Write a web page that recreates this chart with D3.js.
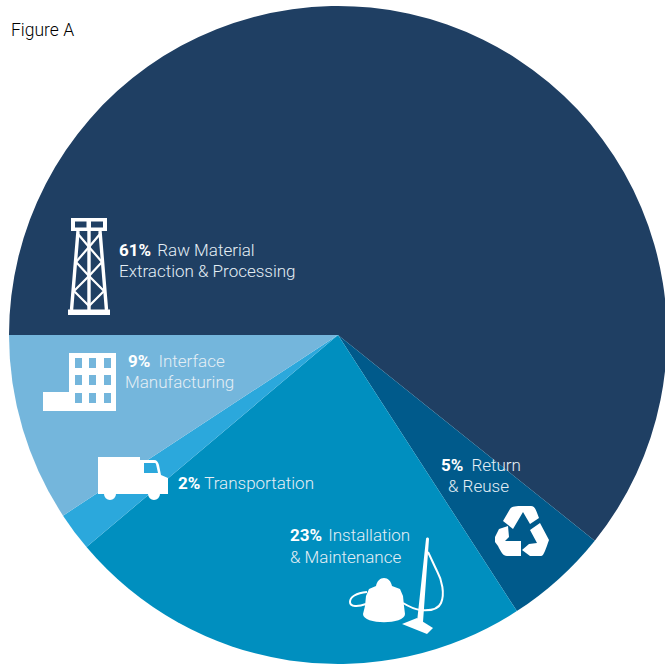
<!DOCTYPE html>
<html>
<head>
<meta charset="utf-8">
<script src="https://cdn.jsdelivr.net/npm/d3@7.9.0/dist/d3.min.js"></script>
<style>
  html, body { margin: 0; padding: 0; background: #fff; }
  svg { display: block; }
  text { font-family: "Roboto", "Open Sans", sans-serif; font-weight: 300; font-size: 17px; }
  .pct { font-weight: 700; fill: #fff; }
</style>
</head>
<body>
<div id="chart"></div>
<script>
// Data, in drawing order from 9 o'clock going clockwise
const categories = ['Raw Material Extraction & Processing', 'Return & Reuse', 'Installation & Maintenance', 'Transportation', 'Interface Manufacturing'];
const shares = [60.75, 5.1, 23, 1.9, 9.25];
const percentLabels = ['61%', '5%', '23%', '2%', '9%'];
const labelLines = [
  ['Raw Material', 'Extraction & Processing'],
  ['Return', '& Reuse'],
  ['Installation', '& Maintenance'],
  ['Transportation'],
  ['Interface', 'Manufacturing']
];
const sliceColors = ['#1f3f63', '#005a8b', '#008fbf', '#2ba8dc', '#74b6dc'];

const width = 665;
const height = 665;
const cx = 338;
const cy = 335;
const radius = 329;

const svg = d3.select('#chart')
  .append('svg')
  .attr('width', width)
  .attr('height', height);

svg.append('text')
  .attr('x', 11)
  .attr('y', 36)
  .attr('fill', '#000')
  .style('font-size', '17.5px')
  .text('Figure A');

// Pie
const pie = d3.pie()
  .sort(null)
  .startAngle(-Math.PI / 2)
  .endAngle(1.5 * Math.PI);

const arc = d3.arc().innerRadius(0).outerRadius(radius);

svg.append('g')
  .attr('transform', `translate(${cx},${cy})`)
  .selectAll('path')
  .data(pie(shares))
  .enter()
  .append('path')
  .attr('d', arc)
  .attr('fill', (d, i) => sliceColors[i]);

// Labels: first line starts with the bold percentage
const labelPos = [
  { x: 119, y: 256, x2: 119, gap: 2, lead: 21 },
  { x: 441, y: 471, x2: 448, gap: 4, lead: 21 },
  { x: 290, y: 541, x2: 290, gap: 2, lead: 22 },
  { x: 178, y: 489, x2: 178, gap: 0, lead: 21 },
  { x: 128, y: 367, x2: 125, gap: 4, lead: 21 }
];

labelLines.forEach((lines, i) => {
  const t = svg.append('text').attr('fill', '#e4eef5');
  const first = t.append('tspan').attr('x', labelPos[i].x).attr('y', labelPos[i].y);
  first.append('tspan').attr('class', 'pct').text(percentLabels[i]);
  first.append('tspan').attr('dx', labelPos[i].gap).text(' ' + lines[0]);
  if (lines[1]) {
    t.append('tspan').attr('x', labelPos[i].x2).attr('y', labelPos[i].y + labelPos[i].lead).text(lines[1]);
  }
});

// Icons
const icons = svg.append('g').attr('fill', '#fff');

// oil derrick
const derrick = icons.append('g');
derrick.append('path')
  .attr('fill-rule', 'evenodd')
  .attr('d', 'M71,218H107V231H71Z M75,221.5V227.5H86.5V221.5Z M91,221.5V227.5H103V221.5Z');
derrick.append('path').attr('d', 'M68,309.5H110V315H68Z');
derrick.append('path')
  .attr('fill', 'none')
  .attr('stroke', '#fff')
  .attr('stroke-width', 3.4)
  .attr('d', 'M78,231L71.5,310 M100,231L106.5,310 M89,231V310');
derrick.append('path')
  .attr('fill', 'none')
  .attr('stroke', '#fff')
  .attr('stroke-width', 2.2)
  .attr('d', 'M78,234L89,247L76,262L89,276L74,291L89,306 M100,234L89,247L102,262L89,276L104,291L89,306');

// factory
icons.append('path')
  .attr('fill-rule', 'evenodd')
  .attr('d', 'M69,353H116V411H43V392H69Z'
    + d3.cross([75, 89, 104], [358, 375, 393], (x, y) => `M${x},${y}h7v10h-7Z`).join(''));

// truck
icons.append('path')
  .attr('fill-rule', 'evenodd')
  .attr('d', 'M98,457H140V460H154C157,460 158,462 159,465L161,475L168,478V494H160A6,6 0 0 1 148,494H116A6,6 0 0 1 104,494H98Z M144,463V473H158L156,464C156,463 155,463 154,463Z');

// vacuum cleaner
const vac = icons.append('g');
vac.append('path').attr('d', 'M426,539C426,537 429,537 429,539L423,622H417Z');
vac.append('path').attr('d', 'M402,624L417,618L433,628L427,634Z');
vac.append('path')
  .attr('d', 'M366,596L369,589L376,586C377,581 380,578 384,578C388,578 391,581 392,586L400,589L403,596L404,606L405,614C405,625 363,625 363,614L365,606Z');
vac.append('path')
  .attr('fill', 'none')
  .attr('stroke', '#fff')
  .attr('stroke-width', 2)
  .attr('d', 'M367,592C356,593 350,597 350,602C350,607 358,607 366,604 M403,603C408,606 413,609 420,610C430,611 438,610 441,603C445,594 442,580 437,571C434,565 431,558 428,552');

// recycling arrows
icons.append('path')
  .attr('d', 'M503,521L510,509C512,506 516,506 523,506H531C535,506 536,510 539,518L530,524L523,512L513,529Z'
    + 'M529,544L522,550L530,556H541C544,556 546,548 549,540L540,523L530,530L537,543Z'
    + 'M495,537L499,529L508,526L509,537L505,541H521V556H507C503,556 501,552 498,546L495,542Z');
</script>
</body>
</html>
